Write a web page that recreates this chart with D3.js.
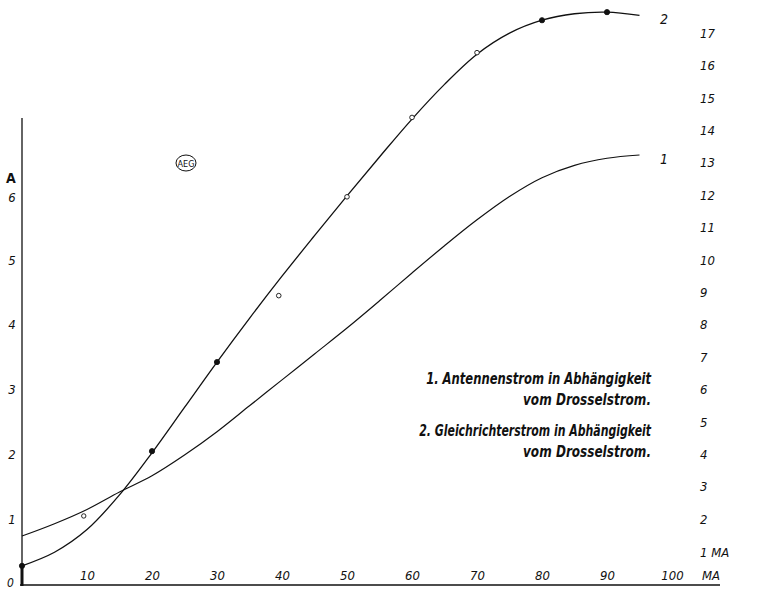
<!DOCTYPE html>
<html><head><meta charset="utf-8">
<script src="https://cdn.jsdelivr.net/npm/d3@7"></script>
<style>
body{margin:0;background:#fff;}
svg text{fill:#111;}
</style></head>
<body><svg id="c" width="760" height="592"></svg>
<script>
// Drosselstrom (MA) sampling points
const drossel = [0,5,10,15,20,25,30,35,40,45,50,55,60,65,70,75,80,85,90,95];
// Curve 1: Antennenstrom (A, left axis)
const antenne = [0.74,0.93,1.15,1.42,1.67,1.99,2.35,2.75,3.15,3.55,3.95,4.37,4.8,5.22,5.62,5.98,6.27,6.46,6.57,6.62];
// Curve 2: Gleichrichterstrom (MA, right axis)
const gleich = [0.56,0.98,1.68,2.75,4.05,5.45,6.85,8.2,9.5,10.75,11.98,13.18,14.35,15.42,16.35,17.0,17.4,17.6,17.65,17.55];
// Measured points on curve 2
const pts2X = [0,20,30,39.5,50,60,70,80,90];
const pts2Y = [0.56,4.1,6.85,8.9,11.95,14.4,16.4,17.4,17.65];
const pts2Filled = [true,true,true,false,false,false,false,true,true];
// Measured point on curve 1
const pts1X = [9.5];
const pts1Y = [1.05];
const xTicks = [10,20,30,40,50,60,70,80,90,100];
const leftTicks = [1,2,3,4,5,6];
const rightTicks = [2,3,4,5,6,7,8,9,10,11,12,13,14,15,16,17];
const legendLines = ["1. Antennenstrom in Abhängigkeit","vom Drosselstrom.","2. Gleichrichterstrom in Abhängigkeit","vom Drosselstrom."];

const svg = d3.select("#c");
const x = d3.scaleLinear([0,100],[22,672]);
const yMA = d3.scaleLinear([0,17],[584,584-17*32.4]);
const yA = d3.scaleLinear([0,6],[584,584-6*64.8]);
const font = "'DejaVu Sans Condensed','Liberation Sans Narrow','Liberation Sans',sans-serif";

// axes lines
svg.append("line").attr("x1",22).attr("x2",22).attr("y1",118).attr("y2",586)
  .attr("stroke","#111").attr("stroke-width",1.3);
svg.append("line").attr("x1",20).attr("x2",720).attr("y1",585).attr("y2",585)
  .attr("stroke","#111").attr("stroke-width",1.3);
svg.append("line").attr("x1",22).attr("x2",22).attr("y1",566).attr("y2",586)
  .attr("stroke","#111").attr("stroke-width",3);

// x axis labels
const xa = svg.append("g").attr("transform","translate(0,585)")
  .call(d3.axisTop(x).tickValues(xTicks).tickSize(0).tickPadding(5));
xa.select(".domain").remove();
xa.selectAll("text").attr("font-family",font).attr("font-style","italic").attr("font-size",13).attr("fill","#111");
svg.append("text").attr("x",702).attr("y",580).text("MA").attr("font-family",font).attr("font-style","italic").attr("font-size",13);
svg.append("text").attr("x",7).attr("y",587).text("0").attr("font-family",font).attr("font-style","italic").attr("font-size",12);

// left axis labels
const la = svg.append("g").attr("transform","translate(12,0)")
  .call(d3.axisLeft(yA).tickValues(leftTicks).tickFormat(d3.format("d")).tickSize(0).tickPadding(0));
la.select(".domain").remove();
la.selectAll("text").attr("text-anchor","middle").attr("font-family",font).attr("font-style","italic").attr("font-size",13).attr("fill","#111");
la.selectAll(".tick").filter(d=>d===6).attr("transform","translate(0,"+(yA(6)+3)+")");
svg.append("text").attr("x",6).attr("y",183).text("A").attr("font-family",font).attr("font-weight","bold").attr("font-size",14);

// right axis labels
const ra = svg.append("g").attr("transform","translate(700,0)")
  .call(d3.axisRight(yMA).tickValues(rightTicks).tickSize(0).tickPadding(0));
ra.select(".domain").remove();
ra.selectAll("text").attr("font-family",font).attr("font-style","italic").attr("font-size",13).attr("fill","#111");
svg.append("text").attr("x",700).attr("y",yMA(1)+5).text("1 MA").attr("font-family",font).attr("font-style","italic").attr("font-size",13);

// curves
const line1 = d3.line().x((d,i)=>x(drossel[i])).y(d=>yA(d)).curve(d3.curveCatmullRom.alpha(0.5));
const line2 = d3.line().x((d,i)=>x(drossel[i])).y(d=>yMA(d)).curve(d3.curveCatmullRom.alpha(0.5));
svg.append("path").attr("d",line1(antenne)).attr("fill","none").attr("stroke","#111").attr("stroke-width",1.2);
svg.append("path").attr("d",line2(gleich)).attr("fill","none").attr("stroke","#111").attr("stroke-width",1.3);

// markers
svg.selectAll(".p2").data(pts2X).join("circle")
  .attr("cx",d=>x(d)).attr("cy",(d,i)=>yMA(pts2Y[i])).attr("r",(d,i)=>pts2Filled[i]?2.6:2.3)
  .attr("fill",(d,i)=>pts2Filled[i]?"#111":"#fff").attr("stroke","#111").attr("stroke-width",0.9);
svg.selectAll(".p1").data(pts1X).join("circle")
  .attr("cx",d=>x(d)).attr("cy",(d,i)=>yA(pts1Y[i])).attr("r",2.2)
  .attr("fill","#fff").attr("stroke","#111").attr("stroke-width",0.9);

// curve labels
svg.append("text").attr("x",660).attr("y",yMA(gleich[gleich.length-1])+9).text("2").attr("font-family",font).attr("font-style","italic").attr("font-size",14);
svg.append("text").attr("x",660).attr("y",yA(antenne[antenne.length-1])+9).text("1").attr("font-family",font).attr("font-style","italic").attr("font-size",14);

// legend (horizontally condensed via scale transform)
const lgY = [384,405,436,457];
const lgW = [225,128,232,128];
legendLines.forEach((t,i)=>{
  const g = svg.append("g");
  const tx = g.append("text").attr("x",0).attr("y",0).text(t)
    .attr("font-family",font).attr("font-style","italic").attr("font-weight","bold")
    .attr("font-size",16).attr("text-anchor","end");
  const w = tx.node().getComputedTextLength();
  g.attr("transform","translate(651,"+lgY[i]+") scale("+(lgW[i]/w)+",1)");
});

// AEG logo
const logo = svg.append("g").attr("transform","translate(186,163)");
logo.append("ellipse").attr("rx",10).attr("ry",8).attr("fill","none").attr("stroke","#111").attr("stroke-width",1);
logo.append("text").attr("text-anchor","middle").attr("y",3.5).text("AEG")
  .attr("font-family",font).attr("font-size",9);
</script></body></html>
